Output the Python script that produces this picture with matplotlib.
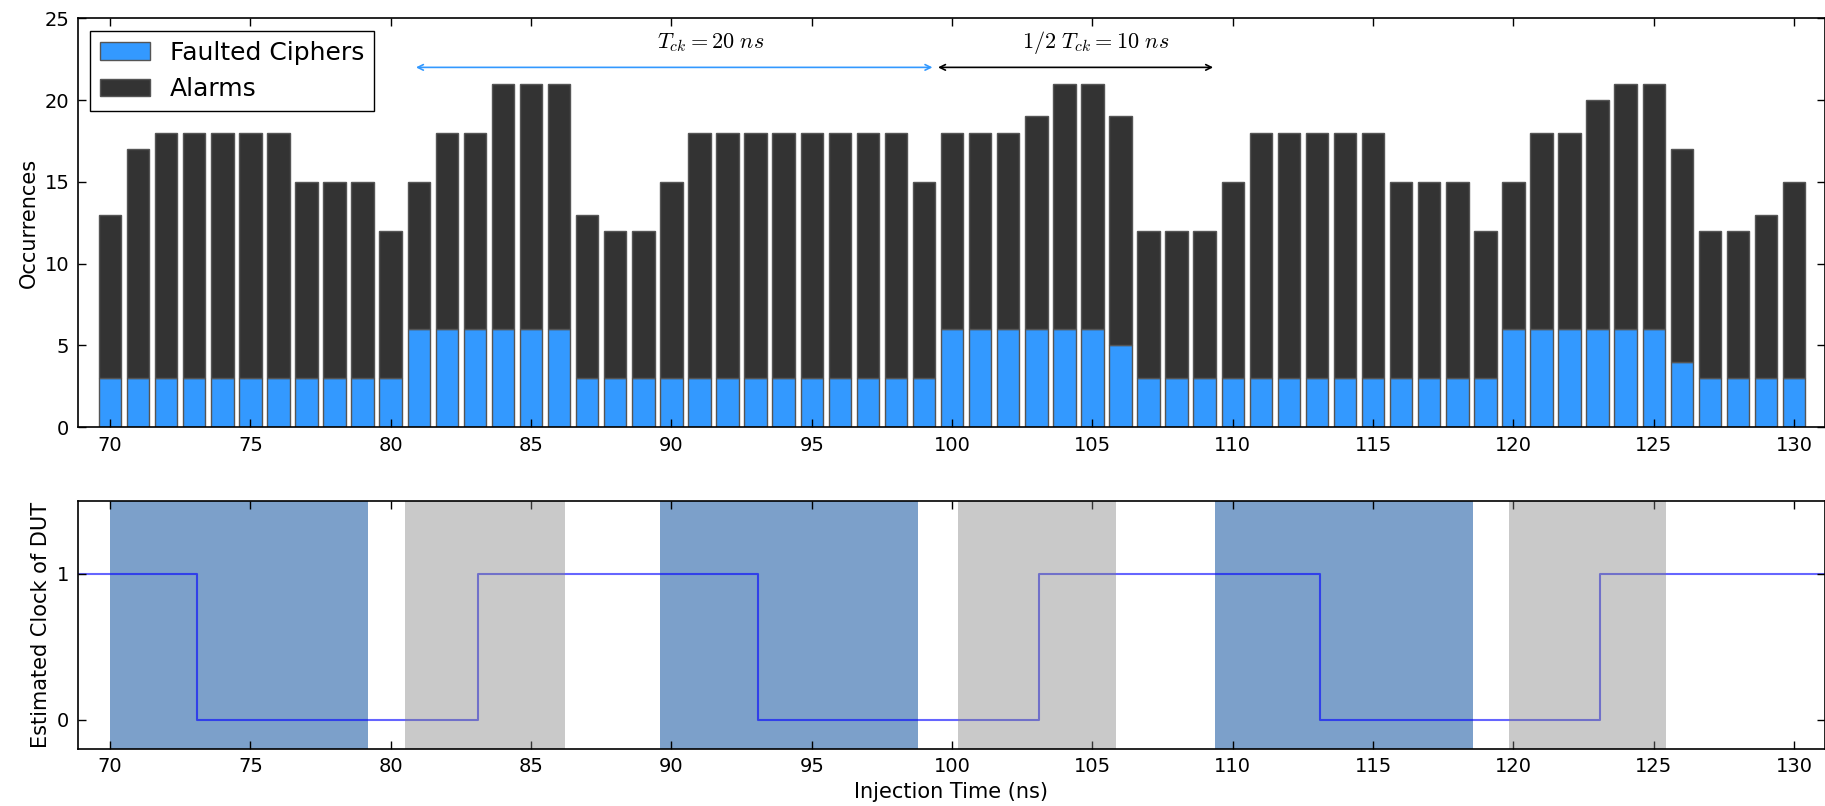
import numpy as np
import matplotlib
matplotlib.use("Agg")
import matplotlib.pyplot as plt

# injection times (ns) and counts
inj_time = list(range(70, 131))
total_alarms = [13, 17, 18, 18, 18, 18, 18, 15, 15, 15, 12,
                15, 18, 18, 21, 21, 21, 13, 12, 12, 15,
                18, 18, 18, 18, 18, 18, 18, 18, 15, 18,
                18, 18, 19, 21, 21, 19, 12, 12, 12, 15,
                18, 18, 18, 18, 18, 15, 15, 15, 12, 15,
                18, 18, 20, 21, 21, 17, 12, 12, 13, 15]
faulted = [3, 3, 3, 3, 3, 3, 3, 3, 3, 3, 3,
           6, 6, 6, 6, 6, 6, 3, 3, 3, 3,
           3, 3, 3, 3, 3, 3, 3, 3, 3, 6,
           6, 6, 6, 6, 6, 5, 3, 3, 3, 3,
           3, 3, 3, 3, 3, 3, 3, 3, 3, 6,
           6, 6, 6, 6, 6, 4, 3, 3, 3, 3]

# estimated clock of the DUT (edges in ns)
clock_t = [68.8, 73.1, 83.1, 93.1, 103.1, 113.1, 123.1, 131.2]
clock_v = [1, 0, 1, 0, 1, 0, 1, 1]

# shaded windows in the lower panel
blue_windows = [(70.0, 79.2), (89.6, 98.8), (109.35, 118.55)]
gray_windows = [(80.5, 86.2), (100.2, 105.85), (119.85, 125.45)]

BLUE = "#3399ff"
DARK = "#333333"

plt.rcParams["mathtext.fontset"] = "cm"
plt.rcParams["font.family"] = "DejaVu Sans"

fig = plt.figure(figsize=(18.25, 8.06), dpi=100)
ax1 = fig.add_axes([0.0426, 0.4699, 0.9574, 0.5074])
ax2 = fig.add_axes([0.0426, 0.0707, 0.9574, 0.3077])

x = np.array(inj_time)
f = np.array(faulted)
a = np.array(total_alarms)

ax1.bar(x, f, width=0.8, align="center", color=BLUE, edgecolor="#555555",
        linewidth=1, label="Faulted Ciphers")
ax1.bar(x, a - f, width=0.8, bottom=f, align="center", color=DARK,
        edgecolor="#555555", linewidth=1, label="Alarms")

ax1.set_xlim(68.85, 131.1)
ax1.set_ylim(0, 25)
ax1.set_xticks(range(70, 131, 5))
ax1.set_yticks(range(0, 26, 5))
ax1.set_ylabel("Occurrences", fontsize=15)

# period annotations
ax1.annotate("", xy=(80.8, 22), xytext=(99.4, 22),
             arrowprops=dict(arrowstyle="<->", color=BLUE, lw=1.2))
ax1.annotate("", xy=(99.4, 22), xytext=(109.4, 22),
             arrowprops=dict(arrowstyle="<->", color="black", lw=1.2))
ax1.text(91.4, 23.5, r"$T_{ck} = 20\ ns$", ha="center", va="center", fontsize=16)
ax1.text(105.1, 23.5, r"$1/2\ T_{ck} = 10\ ns$", ha="center", va="center", fontsize=16)

leg = ax1.legend(loc="upper left", bbox_to_anchor=(0.007, 0.969), borderaxespad=0,
                 fontsize=18, fancybox=False, framealpha=1, edgecolor="black")
leg.get_frame().set_linewidth(1)

# lower panel: clock
for lo, hi in blue_windows:
    ax2.axvspan(lo, hi, color="#7ca0ca", lw=0, zorder=0)
ax2.step(clock_t, clock_v, where="post", color="blue", alpha=0.6, lw=1.5, zorder=1)
for lo, hi in gray_windows:
    ax2.axvspan(lo, hi, color="#808080", alpha=0.42, lw=0, zorder=2)

ax2.set_xlim(68.85, 131.1)
ax2.set_ylim(-0.2, 1.5)
ax2.set_xticks(range(70, 131, 5))
ax2.set_yticks([0, 1])
ax2.set_ylabel("Estimated Clock of DUT", fontsize=15)
ax2.set_xlabel("Injection Time (ns)", fontsize=15)

for ax in (ax1, ax2):
    ax.tick_params(direction="in", top=True, right=True, length=6, width=1,
                   labelsize=14, pad=6)
    for s in ax.spines.values():
        s.set_linewidth(1.2)

fig.savefig("out.png", dpi=100)
